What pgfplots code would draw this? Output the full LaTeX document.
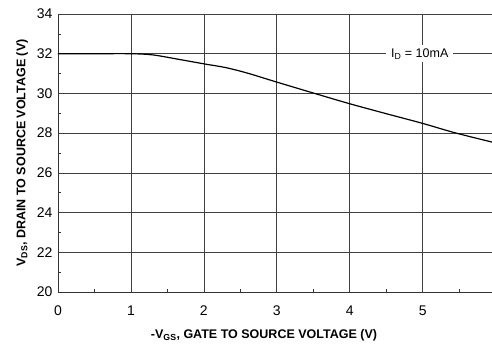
\documentclass[border=0pt]{standalone}
\usepackage{fontspec}
\setmainfont{Liberation Sans}
\usepackage{pgfplots}
\pgfplotsset{compat=1.18}
\begin{document}
\begin{tikzpicture}
\useasboundingbox (-58bp,-54bp) rectangle (434bp,292bp);
\begin{axis}[
  at={(0,0)}, anchor=south west,
  scale only axis,
  width=434bp, height=278bp,
  xmin=0, xmax=5.95, ymin=20, ymax=34,
  xtick={0,1,2,3,4,5},
  minor xtick={0.5,1.5,2.5,3.5,4.5,5.5},
  ytick={20,22,24,26,28,30,32,34},
  minor ytick={21,23,25,27,29,31,33},
  axis x line*=bottom, axis y line*=left,
  axis line style={black!80, line width=0.9pt, -},
  grid=major,
  major grid style={black!75, line width=0.7pt},
  tick align=inside,
  major tick length=0pt,
  minor tick length=3.3bp,
  minor tick style={black!80, line width=0.6pt},
  /pgf/number format/assume math mode=true,
  ticklabel style={font=\fontsize{14bp}{16bp}\selectfont},
  xticklabel style={yshift=-10bp},
  yticklabel style={xshift=-2bp},
  xlabel={\textbf{-V\textsubscript{GS}, GATE TO SOURCE VOLTAGE (V)}},
  ylabel={\textbf{V\textsubscript{DS}, DRAIN TO SOURCE VOLTAGE (V)}},
  label style={font=\fontsize{12.5bp}{14bp}\selectfont},
  xlabel style={yshift=-7bp, xshift=-11bp},
  ylabel style={yshift=2bp},
  clip=true,
]
\addplot[black, line width=1.2pt, smooth] coordinates {
 (0,32.0) (0.5,32.0) (1.0,32.0) (1.3,31.94) (1.65,31.72) (2.0,31.49) (2.3,31.3)
 (2.6,31.02) (3.0,30.57) (3.5,30.02) (4.0,29.48) (4.5,28.98)
 (5.0,28.49) (5.44,28.02) (5.95,27.55)
};
\node[fill=white, inner xsep=5bp, inner ysep=3bp, font=\fontsize{12.5bp}{14bp}\selectfont] at (axis cs:4.96,32) {I\textsubscript{D} = 10mA};
\end{axis}
\end{tikzpicture}
\end{document}
